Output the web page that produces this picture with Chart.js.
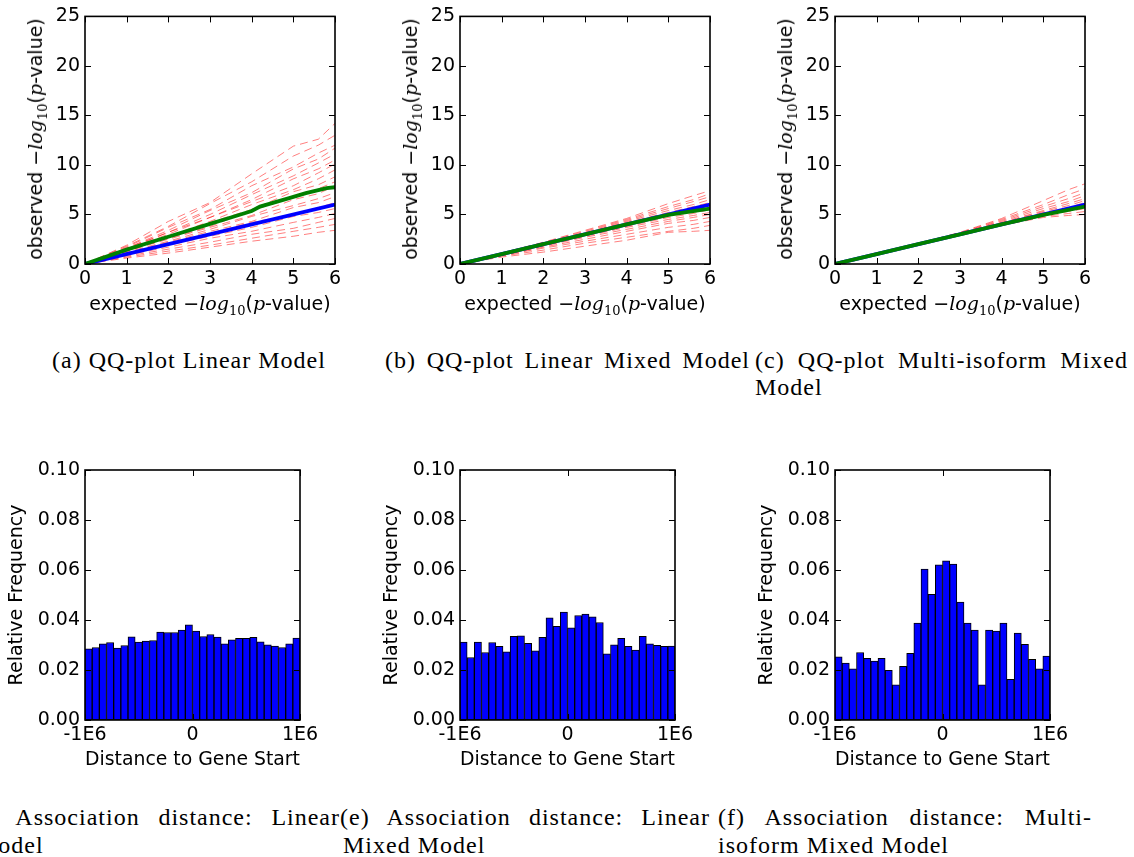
<!DOCTYPE html>
<html>
<head>
<meta charset="utf-8">
<script src="https://cdn.jsdelivr.net/npm/chart.js@4.4.1/dist/chart.umd.min.js"></script>
<style>
  html, body { margin:0; padding:0; background:#fff; }
  body { width:1134px; height:857px; position:relative; overflow:hidden; }
  canvas { position:absolute; }
  .cap { position:absolute; font-family:"Liberation Serif", serif; font-size:24px; line-height:28px; letter-spacing:1px; white-space:nowrap; color:#000; }
  .just { text-align:justify; text-align-last:justify; white-space:normal; }
  .ax { position:absolute; font-family:"DejaVu Sans", sans-serif; font-size:19px; white-space:nowrap; color:#000; transform:translate(-50%,-50%); }
  .ax.rot { transform:translate(-50%,-50%) rotate(-90deg); }
  .ax i { font-family:"DejaVu Serif", serif; font-style:italic; }
  .ax sub { font-family:"DejaVu Serif", serif; font-size:13px; vertical-align:-5px; line-height:0; }
</style>
</head>
<body>
<canvas id="qa" width="375" height="330" style="left:0;top:0"></canvas>
<canvas id="qb" width="375" height="330" style="left:375px;top:0"></canvas>
<canvas id="qc" width="375" height="330" style="left:750px;top:0"></canvas>
<canvas id="hd" width="375" height="330" style="left:0;top:450px"></canvas>
<canvas id="he" width="375" height="330" style="left:375px;top:450px"></canvas>
<canvas id="hf" width="375" height="330" style="left:750px;top:450px"></canvas>

<div id="labels"></div>

<div class="cap" style="left:52px;top:346px">(a) QQ-plot Linear Model</div>
<div class="cap just" style="left:385px;top:346px;width:365px">(b) QQ-plot Linear Mixed Model</div>
<div class="cap just" style="left:755px;top:346px;width:373px">(c) QQ-plot Multi-isoform Mixed</div>
<div class="cap" style="left:755px;top:373px">Model</div>

<div class="cap just" style="left:-33px;top:803px;width:373px">(d) Association distance: Linear</div>
<div class="cap" style="left:-24px;top:831px">Model</div>
<div class="cap just" style="left:340px;top:803px;width:370px">(e) Association distance: Linear</div>
<div class="cap" style="left:343px;top:831px">Mixed Model</div>
<div class="cap just" style="left:718px;top:803px;width:374px">(f) Association distance: Multi-</div>
<div class="cap" style="left:718px;top:831px">isoform Mixed Model</div>

<script>
// ---------------- DATA ----------------
// QQ plots: expected -log10(p) grid for permutation curves
const qqX = [0, 1, 2, 3, 4, 5, 5.6, 6];
// expected (null) diagonal
const expectedX = [0, 6];
const expectedY = [0, 6];

// (a) Linear Model - permutation curves (observed at qqX)
const permA = [
  [0, 1.9, 4.3, 6.2, 9.1, 11.9, 12.6, 14.2],
  [0, 1.8, 3.8, 6.1, 8.3, 10.9, 12.0, 13.0],
  [0, 1.7, 3.7, 5.5, 7.9, 9.8, 11.2, 12.0],
  [0, 1.6, 3.4, 5.4, 7.2, 9.6, 10.6, 11.7],
  [0, 1.6, 3.2, 5.0, 7.0, 8.9, 10.2, 11.1],
  [0, 1.5, 3.2, 4.7, 6.5, 8.6, 9.6, 10.5],
  [0, 1.5, 3.0, 4.7, 6.3, 7.9, 9.2, 10.1],
  [0, 1.4, 2.8, 4.3, 6.0, 7.5, 8.6, 9.5],
  [0, 1.4, 2.7, 4.2, 5.5, 7.3, 8.0, 8.8],
  [0, 1.3, 2.6, 3.8, 5.4, 6.7, 7.6, 8.3],
  [0, 1.3, 2.5, 3.7, 4.9, 6.5, 7.1, 7.9],
  [0, 1.2, 2.3, 3.5, 4.8, 5.9, 6.6, 7.2],
  [0, 1.1, 2.2, 3.3, 4.3, 5.7, 6.2, 6.8],
  [0, 1.1, 2.1, 3.1, 4.2, 5.0, 5.7, 6.2],
  [0, 1.0, 1.9, 2.8, 3.7, 4.8, 5.2, 5.6],
  [0, 0.9, 1.7, 2.6, 3.3, 4.2, 4.7, 5.1],
  [0, 0.8, 1.5, 2.2, 3.0, 3.6, 4.2, 4.6],
  [0, 0.7, 1.3, 1.9, 2.6, 3.3, 3.7, 4.0],
  [0, 0.6, 1.1, 1.7, 2.3, 2.8, 3.2, 3.4]
];
// (a) observed curve
const obsAx = [0, 1, 2, 3, 3.5, 4, 4.2, 4.9, 5.3, 5.8, 6];
const obsAy = [0, 1.45, 2.75, 4.05, 4.7, 5.35, 5.8, 6.65, 7.15, 7.65, 7.75];

// (b) Linear Mixed Model
const permB = [
  [0, 1.1, 2.2, 3.4, 4.6, 6.1, 6.9, 7.4],
  [0, 1.05, 2.15, 3.3, 4.5, 5.8, 6.5, 7.1],
  [0, 1.05, 2.1, 3.2, 4.4, 5.6, 6.3, 6.8],
  [0, 1.0, 2.1, 3.1, 4.3, 5.4, 6.0, 6.5],
  [0, 1.0, 2.0, 3.1, 4.2, 5.2, 5.8, 6.2],
  [0, 1.0, 2.0, 3.0, 4.0, 5.0, 5.5, 5.9],
  [0, 1.0, 1.95, 2.95, 3.9, 4.9, 5.3, 5.7],
  [0, 0.95, 1.9, 2.9, 3.8, 4.7, 5.1, 5.5],
  [0, 0.95, 1.85, 2.8, 3.7, 4.5, 4.9, 5.2],
  [0, 0.9, 1.8, 2.7, 3.5, 4.3, 4.7, 5.0],
  [0, 0.9, 1.7, 2.5, 3.3, 4.1, 4.4, 4.7],
  [0, 0.85, 1.6, 2.3, 3.0, 3.7, 4.0, 4.3],
  [0, 0.8, 1.4, 2.1, 2.7, 3.3, 3.6, 3.9],
  [0, 0.7, 1.2, 1.8, 2.4, 3.2, 3.3, 3.4]
];
const obsBx = [0, 1, 2, 3, 4, 5, 6];
const obsBy = [0, 1.0, 2.0, 3.0, 4.0, 4.95, 5.6];

// (c) Multi-isoform Mixed Model
const permC = [
  [0, 1.0, 2.05, 3.2, 4.6, 6.4, 7.5, 8.1],
  [0, 1.0, 2.05, 3.15, 4.5, 6.0, 7.0, 7.6],
  [0, 1.0, 2.05, 3.1, 4.4, 5.8, 6.6, 7.2],
  [0, 1.0, 2.0, 3.1, 4.3, 5.6, 6.3, 6.9],
  [0, 1.0, 2.0, 3.05, 4.2, 5.4, 6.1, 6.6],
  [0, 1.0, 2.0, 3.05, 4.15, 5.3, 5.9, 6.4],
  [0, 1.0, 2.0, 3.0, 4.1, 5.2, 5.7, 6.2],
  [0, 1.0, 2.0, 3.0, 4.05, 5.1, 5.6, 6.0],
  [0, 1.0, 2.0, 3.0, 4.0, 5.0, 5.4, 5.8],
  [0, 1.0, 2.0, 3.0, 4.0, 4.9, 5.3, 5.6],
  [0, 1.0, 2.0, 2.95, 3.95, 4.8, 5.1, 5.3],
  [0, 1.0, 1.95, 2.95, 3.9, 4.7, 4.9, 5.0]
];
const obsCx = [0, 1, 2, 3, 4, 5, 6];
const obsCy = [0, 1.0, 2.0, 3.0, 4.0, 4.95, 5.8];

const qqXTicks = [0, 1, 2, 3, 4, 5, 6];
const qqYTicks = [0, 5, 10, 15, 20, 25];

// Histograms: 30 bins over [-1E6, 1E6]
const histRange = [-1e6, 1e6];
const histBinCount = 30;
const freqD = [0.0285, 0.0290, 0.0305, 0.0310, 0.0288, 0.0298, 0.0333, 0.0312, 0.0316, 0.0318,
               0.0352, 0.0350, 0.0350, 0.0360, 0.0381, 0.0356, 0.0334, 0.0342, 0.0332, 0.0305,
               0.0321, 0.0327, 0.0327, 0.0331, 0.0313, 0.0301, 0.0296, 0.0290, 0.0305, 0.0328];
const freqE = [0.0312, 0.0250, 0.0312, 0.0270, 0.0310, 0.0295, 0.0273, 0.0335, 0.0337, 0.0307,
               0.0277, 0.0331, 0.0409, 0.0375, 0.0432, 0.0369, 0.0418, 0.0424, 0.0413, 0.0390,
               0.0265, 0.0301, 0.0327, 0.0295, 0.0280, 0.0335, 0.0305, 0.0299, 0.0295, 0.0296];
const freqF = [0.0253, 0.0228, 0.0205, 0.0270, 0.0247, 0.0236, 0.0247, 0.0199, 0.0141, 0.0215,
               0.0267, 0.0388, 0.0604, 0.0503, 0.0621, 0.0637, 0.0624, 0.0472, 0.0388, 0.0360,
               0.0141, 0.0360, 0.0356, 0.0388, 0.0163, 0.0348, 0.0303, 0.0243, 0.0205, 0.0256];
const histXTicks = [-1e6, 0, 1e6];
const histXTickLabels = ['-1E6', '0', '1E6'];
const histYTicks = [0, 0.02, 0.04, 0.06, 0.08, 0.10];

// ---------------- CHARTS ----------------
Chart.defaults.color = '#000';
Chart.defaults.font.family = '"DejaVu Sans", sans-serif';
Chart.defaults.font.size = 19;

const frameTicks = {
  id: 'frameTicks',
  afterDatasetsDraw(chart) {
    const { ctx, chartArea: a, scales } = chart;
    const L = 6;
    ctx.save();
    ctx.strokeStyle = '#000';
    ctx.lineWidth = 1;
    ctx.beginPath();
    scales.x.ticks.forEach(t => {
      const px = Math.round(scales.x.getPixelForValue(t.value)) + 0.5;
      ctx.moveTo(px, a.bottom); ctx.lineTo(px, a.bottom - L);
      ctx.moveTo(px, a.top); ctx.lineTo(px, a.top + L);
    });
    scales.y.ticks.forEach(t => {
      const py = Math.round(scales.y.getPixelForValue(t.value)) + 0.5;
      ctx.moveTo(a.left, py); ctx.lineTo(a.left + L, py);
      ctx.moveTo(a.right, py); ctx.lineTo(a.right - L, py);
    });
    ctx.stroke();
    ctx.lineWidth = 1.6;
    ctx.strokeRect(a.left, a.top, a.right - a.left, a.bottom - a.top);
    ctx.restore();
  }
};

function qqChart(id, perms, ox, oy) {
  const datasets = [];
  perms.forEach(p => {
    datasets.push({
      data: qqX.map((x, i) => ({ x, y: p[i] })),
      showLine: true, pointRadius: 0, borderWidth: 1, order: 3,
      borderColor: 'rgba(255,0,0,0.5)', borderDash: [8, 5], fill: false
    });
  });
  datasets.push({
    data: expectedX.map((x, i) => ({ x, y: expectedY[i] })), order: 2,
    showLine: true, pointRadius: 0, borderWidth: 3.8, borderColor: 'rgb(0,0,255)', fill: false
  });
  datasets.push({
    data: ox.map((x, i) => ({ x, y: oy[i] })), order: 1,
    showLine: true, pointRadius: 0, borderWidth: 3.8, borderColor: 'rgb(0,128,0)', fill: false
  });
  return new Chart(document.getElementById(id), {
    type: 'scatter',
    data: { datasets },
    plugins: [frameTicks],
    options: {
      responsive: false, animation: false, devicePixelRatio: 1,
      layout: { padding: { top: 14, right: 40, left: 0, bottom: 0 } },
      plugins: { legend: { display: false }, tooltip: { enabled: false } },
      scales: {
        x: {
          type: 'linear', min: 0, max: 6,
          afterBuildTicks: s => { s.ticks = qqXTicks.map(v => ({ value: v })); },
          ticks: { padding: 4, autoSkip: false, maxRotation: 0, callback: v => String(v) },
          grid: { display: false, drawTicks: false }, border: { display: false },
          afterFit: s => { s.height = 66; }
        },
        y: {
          type: 'linear', min: 0, max: 25,
          afterBuildTicks: s => { s.ticks = qqYTicks.map(v => ({ value: v })); },
          ticks: { padding: 5, autoSkip: false, callback: v => String(v) },
          grid: { display: false, drawTicks: false }, border: { display: false },
          afterFit: s => { s.width = 85; }
        }
      }
    }
  });
}

function histChart(id, freq) {
  const w = (histRange[1] - histRange[0]) / histBinCount;
  const data = freq.map((f, i) => ({ x: histRange[0] + (i + 0.5) * w, y: f }));
  return new Chart(document.getElementById(id), {
    type: 'bar',
    data: { datasets: [{
      data, backgroundColor: 'rgb(0,0,255)', borderColor: '#000', borderWidth: 1,
      borderSkipped: false, barPercentage: 1, categoryPercentage: 1
    }] },
    plugins: [frameTicks],
    options: {
      responsive: false, animation: false, devicePixelRatio: 1,
      layout: { padding: { top: 20, right: 75, left: 0, bottom: 0 } },
      plugins: { legend: { display: false }, tooltip: { enabled: false } },
      scales: {
        x: {
          type: 'linear', min: histRange[0], max: histRange[1], offset: false,
          afterBuildTicks: s => { s.ticks = histXTicks.map(v => ({ value: v })); },
          ticks: { padding: 4, autoSkip: false, maxRotation: 0,
                   callback: v => histXTickLabels[histXTicks.indexOf(v)] },
          grid: { display: false, drawTicks: false }, border: { display: false },
          title: { display: true, text: 'Distance to Gene Start', padding: { top: 0, bottom: 9 } },
          afterFit: s => { s.height = 60; }
        },
        y: {
          type: 'linear', min: 0, max: 0.1,
          afterBuildTicks: s => { s.ticks = histYTicks.map(v => ({ value: v })); },
          ticks: { padding: 5, autoSkip: false, callback: v => v.toFixed(2) },
          grid: { display: false, drawTicks: false }, border: { display: false },
          title: { display: true, text: 'Relative Frequency', padding: { top: 6, bottom: 0 } },
          afterFit: s => { s.width = 85; }
        }
      }
    }
  });
}

qqChart('qa', permA, obsAx, obsAy);
qqChart('qb', permB, obsBx, obsBy);
qqChart('qc', permC, obsCx, obsCy);
histChart('hd', freqD);
histChart('he', freqE);
histChart('hf', freqF);

// QQ axis titles (math text) as real HTML text
const xTitle = 'expected −<i>log</i><sub>10</sub>(<i>p</i>-value)';
const yTitle = 'observed −<i>log</i><sub>10</sub>(<i>p</i>-value)';
const lab = document.getElementById('labels');
[0, 375, 750].forEach(off => {
  const xd = document.createElement('div');
  xd.className = 'ax'; xd.innerHTML = xTitle;
  xd.style.left = (off + 210) + 'px'; xd.style.top = '303px';
  lab.appendChild(xd);
  const yd = document.createElement('div');
  yd.className = 'ax rot'; yd.innerHTML = yTitle;
  yd.style.left = (off + 35) + 'px'; yd.style.top = '139px';
  lab.appendChild(yd);
});
</script>
</body>
</html>
